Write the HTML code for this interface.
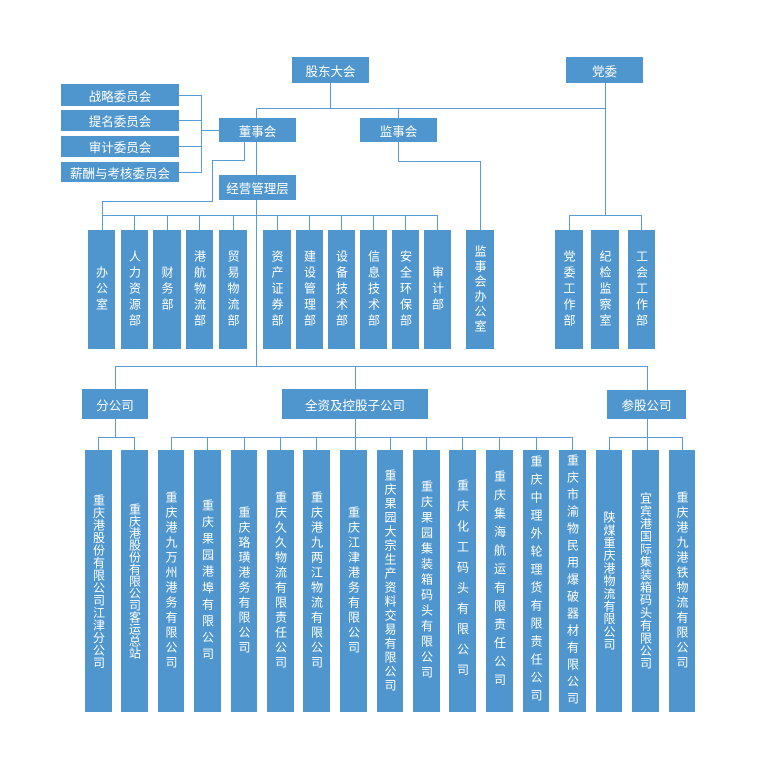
<!DOCTYPE html>
<html><head><meta charset="utf-8"><style>
body{margin:0;background:#fff;}
#c{position:relative;width:760px;height:768px;overflow:hidden;font-family:"Liberation Sans","Noto Sans CJK SC",sans-serif;}
.b{position:absolute;background:#4f96cf;color:#fff;display:flex;align-items:center;justify-content:center;font-size:12px;}
.h{font-size:12.5px;}
.v span{writing-mode:vertical-rl;text-orientation:upright;font-size:12px;line-height:12px;}
svg{position:absolute;left:0;top:0;}
</style></head><body><div id="c">
<svg width="760" height="768"><g stroke="#5b9bd5" stroke-width="1" fill="none">
<path d="M330.5 83V108.5M256.5 108.5H605.5M605.5 83V215M398.5 108.5V118M256.5 108.5V118"/>
<path d="M179 95.5H201.5M179 120.5H201.5M179 146.5H201.5M179 172.5H201.5M201.5 95V173M201.5 130.5H219"/>
<path d="M256.5 142V175M244.5 142V160.5H212.5V201.5H102.5V230"/>
<path d="M102.5 215.5H437.5M134.5 215V230M167.5 215V230M199.5 215V230M233.5 215V230M277.5 215V230M309.5 215V230M341.5 215V230M373.5 215V230M405.5 215V230M437.5 215V230"/>
<path d="M398.5 142V161.5H480.5V230"/>
<path d="M569.5 215.5H641.5M569.5 215V230M641.5 215V230"/>
<path d="M256.5 200V366.5M115.5 366.5H647.5M115.5 366V389M355.5 366V389M647.5 366V390"/>
<path d="M115.5 419V437.5M98.5 437.5H134.5M98.5 437V450M134.5 437V450"/>
<path d="M355.5 419V450M171.5 437.5H572.5M171.5 437V450M207.5 437V450M244.5 437V450M280.5 437V450M316.5 437V450M390.5 437V450M426.5 437V450M462.5 437V450M499.5 437V450M536.5 437V450M572.5 437V450"/>
<path d="M647.5 419V450M609.5 437.5H682.5M609.5 437V450M682.5 437V450"/>
</g></svg>
<div class="b h" style="left:292px;top:57px;width:77px;height:26px">股东大会</div>
<div class="b h" style="left:566px;top:57px;width:77px;height:26px">党委</div>
<div class="b h" style="left:219px;top:118px;width:77px;height:24px">董事会</div>
<div class="b h" style="left:360px;top:118px;width:77px;height:24px">监事会</div>
<div class="b h" style="left:219px;top:175px;width:77px;height:25px">经营管理层</div>
<div class="b h" style="left:61px;top:84px;width:118px;height:22px">战略委员会</div>
<div class="b h" style="left:61px;top:110px;width:118px;height:21px">提名委员会</div>
<div class="b h" style="left:61px;top:136px;width:118px;height:21px">审计委员会</div>
<div class="b h" style="left:61px;top:162px;width:118px;height:20px">薪酬与考核委员会</div>
<div class="b h" style="left:82px;top:389px;width:66px;height:30px">分公司</div>
<div class="b h" style="left:282px;top:389px;width:146px;height:30px">全资及控股子公司</div>
<div class="b h" style="left:607px;top:390px;width:79px;height:29px">参股公司</div>

<div class="b v" style="left:88px;top:230px;width:27px;height:119px"><span style="letter-spacing:4px">办公室</span></div>
<div class="b v" style="left:121px;top:230px;width:27px;height:119px"><span style="letter-spacing:4px">人力资源部</span></div>
<div class="b v" style="left:153px;top:230px;width:28px;height:119px"><span style="letter-spacing:4px">财务部</span></div>
<div class="b v" style="left:186px;top:230px;width:27px;height:119px"><span style="letter-spacing:4px">港航物流部</span></div>
<div class="b v" style="left:219px;top:230px;width:28px;height:119px"><span style="letter-spacing:4px">贸易物流部</span></div>
<div class="b v" style="left:263px;top:230px;width:28px;height:119px"><span style="letter-spacing:4px">资产证券部</span></div>
<div class="b v" style="left:296px;top:230px;width:27px;height:119px"><span style="letter-spacing:4px">建设管理部</span></div>
<div class="b v" style="left:328px;top:230px;width:27px;height:119px"><span style="letter-spacing:4px">设备技术部</span></div>
<div class="b v" style="left:360px;top:230px;width:27px;height:119px"><span style="letter-spacing:4px">信息技术部</span></div>
<div class="b v" style="left:392px;top:230px;width:27px;height:119px"><span style="letter-spacing:4px">安全环保部</span></div>
<div class="b v" style="left:424px;top:230px;width:27px;height:119px"><span style="letter-spacing:4px">审计部</span></div>
<div class="b v" style="left:466px;top:230px;width:28px;height:119px"><span style="letter-spacing:3px">监事会办公室</span></div>
<div class="b v" style="left:555px;top:230px;width:28px;height:119px"><span style="letter-spacing:4px">党委工作部</span></div>
<div class="b v" style="left:591px;top:230px;width:28px;height:119px"><span style="letter-spacing:4px">纪检监察室</span></div>
<div class="b v" style="left:628px;top:230px;width:27px;height:119px"><span style="letter-spacing:4px">工会工作部</span></div>

<div class="b v" style="left:85px;top:450px;width:27px;height:262px"><span style="letter-spacing:0.5px">重庆港股份有限公司江津分公司</span></div>
<div class="b v" style="left:121px;top:450px;width:27px;height:262px"><span style="letter-spacing:0px">重庆港股份有限公司客运总站</span></div>
<div class="b v" style="left:158px;top:450px;width:26px;height:262px"><span style="letter-spacing:3px">重庆港九万州港务有限公司</span></div>
<div class="b v" style="left:194px;top:450px;width:27px;height:262px"><span style="letter-spacing:4.5px">重庆果园港埠有限公司</span></div>
<div class="b v" style="left:231px;top:450px;width:26px;height:262px"><span style="letter-spacing:3px">重庆珞璜港务有限公司</span></div>
<div class="b v" style="left:267px;top:450px;width:27px;height:262px"><span style="letter-spacing:3px">重庆久久物流有限责任公司</span></div>
<div class="b v" style="left:303px;top:450px;width:27px;height:262px"><span style="letter-spacing:3px">重庆港九两江物流有限公司</span></div>
<div class="b v" style="left:340px;top:450px;width:27px;height:262px"><span style="letter-spacing:3px">重庆江津港务有限公司</span></div>
<div class="b v" style="left:377px;top:450px;width:26px;height:262px"><span style="letter-spacing:2px">重庆果园大宗生产资料交易有限公司</span></div>
<div class="b v" style="left:413px;top:450px;width:27px;height:262px"><span style="letter-spacing:3.5px">重庆果园集装箱码头有限公司</span></div>
<div class="b v" style="left:449px;top:450px;width:27px;height:262px"><span style="letter-spacing:8.5px">重庆化工码头有限公司</span></div>
<div class="b v" style="left:486px;top:450px;width:27px;height:262px"><span style="letter-spacing:6.5px">重庆集海航运有限责任公司</span></div>
<div class="b v" style="left:523px;top:450px;width:26px;height:262px"><span style="letter-spacing:6px">重庆中理外轮理货有限责任公司</span></div>
<div class="b v" style="left:559px;top:450px;width:27px;height:262px"><span style="letter-spacing:5px">重庆市渝物民用爆破器材有限公司</span></div>
<div class="b v" style="left:596px;top:450px;width:26px;height:262px"><span style="letter-spacing:0.7px">陕煤重庆港物流有限公司</span></div>
<div class="b v" style="left:632px;top:450px;width:27px;height:262px"><span style="letter-spacing:0.7px">宜宾港国际集装箱码头有限公司</span></div>
<div class="b v" style="left:669px;top:450px;width:26px;height:262px"><span style="letter-spacing:3px">重庆港九港铁物流有限公司</span></div>
</div></body></html>
